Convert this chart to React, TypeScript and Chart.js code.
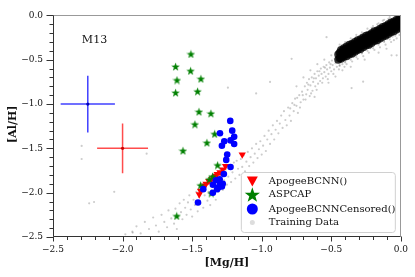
import React, { useEffect, useRef } from 'react';
import { Chart, registerables } from 'chart.js';

Chart.register(...registerables);

// ---------- text ----------
const xTitle = '[Mg/H]';
const yTitle = '[Al/H]';
const clusterName = 'M13';
const seriesNames = ['ApogeeBCNN()', 'ASPCAP', 'ApogeeBCNNCensored()', 'Training Data'];

// ---------- ticks ----------
const xMajorTicks = [-2.5, -2.0, -1.5, -1.0, -0.5, 0.0];
const yMajorTicks = [-2.5, -2.0, -1.5, -1.0, -0.5, 0.0];
const minorTicks = [-2.4, -2.3, -2.2, -2.1, -1.9, -1.8, -1.7, -1.6, -1.4, -1.3, -1.2, -1.1, -0.9, -0.8, -0.7, -0.6, -0.4, -0.3, -0.2, -0.1];

// ---------- series ----------
const apogeeBCNN: number[][] = [
  [-1.449, -2.02], [-1.44, -1.98], [-1.42, -1.94], [-1.41, -1.92], [-1.40, -1.90], [-1.38, -1.87],
  [-1.36, -1.85], [-1.34, -1.83], [-1.33, -1.81], [-1.32, -1.79], [-1.30, -1.77], [-1.28, -1.74],
  [-1.26, -1.70], [-1.14, -1.57],
];

const aspcap: number[][] = [
  [-1.509, -0.435], [-1.619, -0.577], [-1.511, -0.625], [-1.609, -0.729], [-1.437, -0.714],
  [-1.619, -0.871], [-1.461, -0.856], [-1.451, -1.086], [-1.365, -1.105], [-1.480, -1.228],
  [-1.338, -1.336], [-1.394, -1.436], [-1.566, -1.526], [-1.317, -1.689], [-1.353, -1.816],
  [-1.377, -1.849], [-1.439, -1.916], [-1.363, -2.005], [-1.611, -2.262],
];

const censored: number[][] = [
  [-1.226, -1.19], [-1.300, -1.33], [-1.212, -1.30], [-1.198, -1.37], [-1.269, -1.42],
  [-1.224, -1.41], [-1.286, -1.47], [-1.198, -1.45], [-1.248, -1.57], [-1.255, -1.63],
  [-1.224, -1.71], [-1.272, -1.79], [-1.302, -1.85], [-1.329, -1.86], [-1.351, -1.91],
  [-1.300, -1.91], [-1.286, -1.93], [-1.320, -1.96], [-1.351, -2.00], [-1.420, -1.96],
  [-1.458, -2.11], [-1.31, -1.94], [-1.28, -1.90],
];

const trainingSparse: number[][] = [
  // lower-left tail
  [-1.98, -2.47], [-1.93, -2.44], [-1.90, -2.38], [-1.87, -2.46], [-1.84, -2.33], [-1.81, -2.41],
  [-1.78, -2.28], [-1.76, -2.37], [-1.74, -2.44], [-1.72, -2.25], [-1.70, -2.33], [-1.68, -2.39],
  [-1.67, -2.20], [-1.65, -2.29], [-1.63, -2.35], [-1.62, -2.18], [-1.60, -2.26], [-1.61, -2.41],
  [-1.59, -2.12], [-1.58, -2.22], [-1.57, -2.30], [-1.56, -2.08], [-1.55, -2.17], [-1.54, -2.25],
  [-1.53, -2.11], [-1.52, -2.03], [-1.51, -2.19], [-1.50, -2.27], [-1.49, -2.08], [-1.48, -2.14],
  [-1.47, -1.99], [-1.46, -2.21], [-1.45, -2.05], [-1.44, -2.12], [-1.43, -1.96], [-1.42, -2.17],
  [-1.41, -2.03], [-1.40, -1.92], [-1.39, -2.09], [-1.38, -1.99], [-1.37, -2.14], [-1.36, -1.90],
  [-1.35, -2.02], [-1.34, -1.95], [-1.33, -2.08], [-1.32, -1.86], [-1.31, -1.99], [-1.30, -1.92],
  // middle
  [-1.29, -1.80], [-1.28, -1.97], [-1.27, -1.86], [-1.26, -1.74], [-1.25, -1.91], [-1.24, -1.82],
  [-1.23, -1.70], [-1.22, -1.88], [-1.21, -1.77], [-1.20, -1.66], [-1.19, -1.84], [-1.18, -1.64],
  [-1.17, -1.73], [-1.16, -1.80], [-1.15, -1.62], [-1.14, -1.71], [-1.13, -1.58], [-1.12, -1.76],
  [-1.11, -1.65], [-1.10, -1.54], [-1.09, -1.70], [-1.08, -1.60], [-1.07, -1.50], [-1.06, -1.66],
  [-1.05, -1.56], [-1.04, -1.45], [-1.03, -1.61], [-1.02, -1.51], [-1.01, -1.42], [-1.00, -1.57],
  [-0.99, -1.47], [-0.98, -1.36], [-0.97, -1.53], [-0.96, -1.40], [-0.95, -1.30], [-0.94, -1.45],
  [-0.93, -1.34], [-0.92, -1.24], [-0.91, -1.40], [-0.90, -1.29], [-0.89, -1.19], [-0.88, -1.33],
  [-0.87, -1.22], [-0.86, -1.13], [-0.85, -1.27], [-0.84, -1.08], [-0.83, -1.18], [-0.82, -1.24],
  [-0.81, -1.04], [-0.80, -1.13], [-0.79, -1.19], [-0.78, -0.99], [-0.77, -1.08], [-0.76, -0.94],
  [-0.75, -1.02], [-0.74, -1.10], [-0.73, -0.90], [-0.72, -0.98], [-0.71, -0.86], [-0.70, -0.95],
  // upper part
  [-0.69, -0.80], [-0.68, -0.89], [-0.675, -0.76], [-0.67, -0.84], [-0.66, -0.72], [-0.655, -0.91],
  [-0.65, -0.79], [-0.64, -0.70], [-0.635, -0.85], [-0.63, -0.75], [-0.62, -0.66], [-0.615, -0.80],
  [-0.61, -0.71], [-0.60, -0.63], [-0.595, -0.77], [-0.59, -0.68], [-0.58, -0.74], [-0.575, -0.60],
  [-0.57, -0.66], [-0.56, -0.71], [-0.555, -0.58], [-0.55, -0.64], [-0.54, -0.69], [-0.535, -0.56],
  [-0.53, -0.61], [-0.52, -0.66], [-0.515, -0.53], [-0.51, -0.59], [-0.50, -0.63], [-0.495, -0.51],
  [-0.49, -0.56], [-0.48, -0.61], [-0.475, -0.49], [-0.47, -0.54], [-0.46, -0.58], [-0.455, -0.47],
  [-0.45, -0.52], [-0.44, -0.56], [-0.435, -0.45], [-0.43, -0.50], [-0.42, -0.55], [-0.415, -0.43],
  [-0.41, -0.48],
  [-0.795, -1.05], [-0.765, -1.01], [-0.745, -0.93], [-0.725, -1.04], [-0.705, -0.90], [-0.685, -0.95],
  [-0.665, -0.78], [-0.645, -0.88], [-0.625, -0.71], [-0.605, -0.84], [-0.585, -0.63], [-0.565, -0.76],
  [-0.545, -0.59], [-0.525, -0.72], [-0.505, -0.55], [-0.485, -0.66], [-0.465, -0.51], [-0.445, -0.61],
  [-0.425, -0.47], [-0.405, -0.58], [-0.60, -0.55], [-0.55, -0.50], [-0.50, -0.45], [-0.65, -0.62],
  [-0.70, -0.70], [-0.75, -0.80], [-0.52, -0.76], [-0.47, -0.69], [-0.42, -0.62], [-0.62, -0.92],
  // halo around the dense core
  [-0.39, -0.55], [-0.37, -0.30], [-0.35, -0.52], [-0.33, -0.27], [-0.31, -0.49], [-0.29, -0.22],
  [-0.27, -0.46], [-0.25, -0.19], [-0.23, -0.42], [-0.21, -0.14], [-0.19, -0.39], [-0.17, -0.10],
  [-0.15, -0.36], [-0.13, -0.06], [-0.11, -0.33], [-0.09, -0.04], [-0.07, -0.30], [-0.05, -0.28],
  [-0.03, -0.26], [-0.01, -0.22], [-0.36, -0.58], [-0.26, -0.50], [-0.16, -0.42],
  [-0.38, -0.33], [-0.34, -0.29], [-0.30, -0.25], [-0.24, -0.20], [-0.20, -0.16], [-0.14, -0.11],
  [-0.40, -0.52], [-0.34, -0.47], [-0.28, -0.42], [-0.22, -0.37], [-0.12, -0.29], [-0.06, -0.24],
  [-0.44, -0.33], [-0.40, -0.30], [-0.36, -0.26], [-0.32, -0.22], [-0.28, -0.19], [-0.24, -0.15],
  [-0.20, -0.12], [-0.16, -0.09], [-0.12, -0.05], [-0.08, -0.02],
  [-0.44, -0.57], [-0.40, -0.53], [-0.36, -0.50], [-0.32, -0.47], [-0.28, -0.43], [-0.24, -0.40],
  [-0.20, -0.37], [-0.16, -0.33], [-0.12, -0.30], [-0.08, -0.27], [-0.04, -0.23], [0.00, -0.19],
  // outliers
  [-2.294, -1.473], [-2.294, -1.62], [-2.06, -1.99], [-2.24, -2.12], [-2.205, -2.105], [-1.927, -2.45],
  [-1.827, -1.56], [-1.243, -0.815], [-0.785, -0.49], [-0.94, -0.75], [-1.04, -0.88], [-0.03, -0.45],
  [-0.534, -0.246], [-0.271, -0.748], [-0.354, -0.82], [-0.067, -0.45], [-0.103, -0.376],
];

const trainingCore: number[][] = [
  [-0.45, -0.50], [-0.45, -0.44],
  [-0.44, -0.48], [-0.44, -0.42],
  [-0.43, -0.49], [-0.43, -0.44], [-0.43, -0.39],
  [-0.42, -0.46], [-0.42, -0.40],
  [-0.41, -0.47], [-0.41, -0.42], [-0.41, -0.37],
  [-0.40, -0.44], [-0.40, -0.38],
  [-0.39, -0.46], [-0.39, -0.40], [-0.39, -0.35],
  [-0.38, -0.43], [-0.38, -0.37],
  [-0.37, -0.44], [-0.37, -0.39], [-0.37, -0.33],
  [-0.36, -0.41], [-0.36, -0.35],
  [-0.35, -0.43], [-0.35, -0.37], [-0.35, -0.32],
  [-0.34, -0.39], [-0.34, -0.33],
  [-0.33, -0.41], [-0.33, -0.35], [-0.33, -0.30],
  [-0.32, -0.38], [-0.32, -0.32],
  [-0.31, -0.39], [-0.31, -0.34], [-0.31, -0.28],
  [-0.30, -0.36], [-0.30, -0.30],
  [-0.29, -0.38], [-0.29, -0.32], [-0.29, -0.27],
  [-0.28, -0.34], [-0.28, -0.28],
  [-0.27, -0.36], [-0.27, -0.30], [-0.27, -0.25],
  [-0.26, -0.32], [-0.26, -0.26],
  [-0.25, -0.34], [-0.25, -0.29], [-0.25, -0.23],
  [-0.24, -0.31], [-0.24, -0.25],
  [-0.23, -0.33], [-0.23, -0.27], [-0.23, -0.22],
  [-0.22, -0.29], [-0.22, -0.23],
  [-0.21, -0.31], [-0.21, -0.25], [-0.21, -0.20],
  [-0.20, -0.27], [-0.20, -0.21],
  [-0.19, -0.29], [-0.19, -0.24], [-0.19, -0.18],
  [-0.18, -0.26], [-0.18, -0.20],
  [-0.17, -0.28], [-0.17, -0.22], [-0.17, -0.17],
  [-0.16, -0.24], [-0.16, -0.18],
  [-0.15, -0.26], [-0.15, -0.20], [-0.15, -0.15],
  [-0.14, -0.22], [-0.14, -0.16],
  [-0.13, -0.24], [-0.13, -0.19], [-0.13, -0.13],
  [-0.12, -0.21], [-0.12, -0.15],
  [-0.11, -0.23], [-0.11, -0.17], [-0.11, -0.12],
  [-0.10, -0.19], [-0.10, -0.13],
  [-0.09, -0.21], [-0.09, -0.15], [-0.09, -0.10],
  [-0.08, -0.17], [-0.08, -0.11],
  [-0.07, -0.19], [-0.07, -0.14], [-0.07, -0.08],
  [-0.06, -0.15], [-0.06, -0.09],
  [-0.05, -0.18], [-0.05, -0.12], [-0.05, -0.07],
  [-0.04, -0.14], [-0.04, -0.08],
  [-0.03, -0.16], [-0.03, -0.10], [-0.03, -0.05],
  [-0.02, -0.12], [-0.02, -0.06],
  [-0.01, -0.14], [-0.01, -0.09], [-0.01, -0.03],
  [0.00, -0.10], [0.00, -0.04],
  [0.01, -0.13], [0.01, -0.07], [0.01, -0.02],
];

// error-bar crosses
const errCenterX = [-2.25, -2.0];
const errCenterY = [-1.0, -1.5];
const errHalfX = [0.195, 0.183];
const errHalfY = [0.32, 0.28];

// ---------- helpers ----------
const SERIF = "'DejaVu Serif', serif";
const fmt = (v: number) => (v < 0 ? '\u2212' : '') + Math.abs(v).toFixed(1);
const toXY = (arr: number[][]) => arr.map(([x, y]) => ({ x, y }));

function starPath(ctx: CanvasRenderingContext2D, cx: number, cy: number, R: number, r: number) {
  ctx.beginPath();
  for (let i = 0; i < 10; i++) {
    const a = -Math.PI / 2 + (i * Math.PI) / 5;
    const rad = i % 2 === 0 ? R : r;
    const px = cx + rad * Math.cos(a);
    const py = cy + rad * Math.sin(a);
    if (i === 0) ctx.moveTo(px, py); else ctx.lineTo(px, py);
  }
  ctx.closePath();
}

function makeStarImage(size: number, color: string) {
  const c = document.createElement('canvas');
  c.width = size;
  c.height = size;
  const g = c.getContext('2d')!;
  starPath(g, size / 2, size / 2 + size * 0.06, size / 2, size * 0.2);
  g.fillStyle = color;
  g.fill();
  return c;
}

const decorPlugin = {
  id: 'decor',
  afterDraw(chart: any) {
    const { ctx, chartArea: a, scales } = chart;
    const xs = scales.x;
    const ys = scales.y;
    ctx.save();

    // error bars
    const errLine = ['rgba(0,0,255,0.75)', 'rgba(255,0,0,0.7)'];
    const errDot = ['#0000bb', '#cc0000'];
    for (let i = 0; i < errCenterX.length; i++) {
      const cx = xs.getPixelForValue(errCenterX[i]);
      const cy = ys.getPixelForValue(errCenterY[i]);
      const x0 = xs.getPixelForValue(errCenterX[i] - errHalfX[i]);
      const x1 = xs.getPixelForValue(errCenterX[i] + errHalfX[i]);
      const y0 = ys.getPixelForValue(errCenterY[i] - errHalfY[i]);
      const y1 = ys.getPixelForValue(errCenterY[i] + errHalfY[i]);
      ctx.strokeStyle = errLine[i];
      ctx.lineWidth = 1.5;
      ctx.beginPath();
      ctx.moveTo(x0, cy); ctx.lineTo(x1, cy);
      ctx.moveTo(cx, y0); ctx.lineTo(cx, y1);
      ctx.stroke();
      ctx.fillStyle = errDot[i];
      ctx.beginPath();
      ctx.arc(cx, cy, 1.6, 0, Math.PI * 2);
      ctx.fill();
    }

    // frame
    const L = Math.round(a.left) + 0.5, R = Math.round(a.right) - 0.5;
    const T = Math.round(a.top) + 0.5, B = Math.round(a.bottom) - 0.5;
    ctx.lineWidth = 1;
    ctx.strokeStyle = '#999';
    ctx.beginPath();
    ctx.moveTo(L, T); ctx.lineTo(R, T); ctx.lineTo(R, B);
    ctx.stroke();
    ctx.strokeStyle = '#333';
    ctx.beginPath();
    ctx.moveTo(L, T); ctx.lineTo(L, B); ctx.lineTo(R, B);
    ctx.stroke();

    // ticks
    ctx.strokeStyle = '#333';
    ctx.beginPath();
    for (const v of yMajorTicks) {
      const y = Math.round(ys.getPixelForValue(v)) + 0.5;
      ctx.moveTo(L - 7, y); ctx.lineTo(L, y);
    }
    for (const v of minorTicks) {
      const y = Math.round(ys.getPixelForValue(v)) + 0.5;
      ctx.moveTo(L - 4, y); ctx.lineTo(L, y);
    }
    for (const v of xMajorTicks) {
      const x = Math.round(xs.getPixelForValue(v)) + 0.5;
      ctx.moveTo(x, B); ctx.lineTo(x, B + 5);
    }
    for (const v of minorTicks) {
      const x = Math.round(xs.getPixelForValue(v)) + 0.5;
      ctx.moveTo(x, B); ctx.lineTo(x, B + 3.5);
    }
    ctx.stroke();

    // axis titles
    ctx.fillStyle = '#111';
    ctx.font = `bold 11px ${SERIF}`;
    ctx.textAlign = 'center';
    ctx.textBaseline = 'middle';
    ctx.fillText(xTitle, (a.left + a.right) / 2, 263);
    ctx.save();
    ctx.translate(13, (a.top + a.bottom) / 2 - 2);
    ctx.rotate(-Math.PI / 2);
    ctx.fillText(yTitle, 0, 0);
    ctx.restore();

    // cluster label
    ctx.font = `11px ${SERIF}`;
    ctx.textAlign = 'left';
    ctx.fillText(clusterName, a.left + (a.right - a.left) * 0.083, a.top + (a.bottom - a.top) * 0.112);

    // legend
    const bx = a.left + (a.right - a.left) * 0.54;
    const by = 172;
    const bw = 154;
    const bh = 60;
    ctx.fillStyle = 'rgba(255,255,255,0.85)';
    ctx.strokeStyle = '#d0d0d0';
    ctx.lineWidth = 1;
    ctx.beginPath();
    ctx.roundRect(bx + 0.5, by + 0.5, bw, bh, 3);
    ctx.fill();
    ctx.stroke();

    const mx = bx + 11.5;
    const tx = bx + 28;
    const rows = [by + 9, by + 22.5, by + 37, by + 50.5];
    ctx.fillStyle = '#ff0000';
    ctx.beginPath();
    ctx.moveTo(mx - 5.5, rows[0] - 4.5);
    ctx.lineTo(mx + 5.5, rows[0] - 4.5);
    ctx.lineTo(mx, rows[0] + 5.5);
    ctx.closePath();
    ctx.fill();
    ctx.fillStyle = '#008000';
    starPath(ctx, mx, rows[1] + 0.8, 8, 3.2);
    ctx.fill();
    ctx.fillStyle = '#0000ff';
    ctx.beginPath();
    ctx.arc(mx, rows[2], 5.5, 0, Math.PI * 2);
    ctx.fill();
    ctx.fillStyle = '#dddddd';
    ctx.beginPath();
    ctx.arc(mx, rows[3], 2.5, 0, Math.PI * 2);
    ctx.fill();

    ctx.fillStyle = '#111';
    ctx.font = `10px ${SERIF}`;
    ctx.textAlign = 'left';
    ctx.textBaseline = 'middle';
    seriesNames.forEach((n, i) => ctx.fillText(n, tx, rows[i]));

    ctx.restore();
  },
};

export default function App() {
  const ref = useRef<HTMLCanvasElement | null>(null);

  useEffect(() => {
    if (!ref.current) return;
    const starImg = makeStarImage(9, '#008000');
    const tickFont = { family: SERIF, size: 9 };
    const chart = new Chart(ref.current, {
      type: 'scatter',
      data: {
        datasets: [
          {
            label: seriesNames[2], data: toXY(censored), order: 0,
            backgroundColor: '#0000ff', borderColor: '#0000ff',
            pointStyle: 'circle', pointRadius: 3.3, pointBackgroundColor: '#0000ff',
            pointBorderWidth: 0, pointBorderColor: 'rgba(0,0,0,0)',
          },
          {
            label: seriesNames[1], data: toXY(aspcap), order: 1,
            backgroundColor: '#008000', borderColor: '#008000',
            pointStyle: starImg as any, pointRadius: 4.5,
          },
          {
            label: seriesNames[0], data: toXY(apogeeBCNN), order: 2,
            backgroundColor: '#ff0000', borderColor: '#ff0000',
            pointStyle: 'triangle', pointRotation: 180, pointRadius: 4.2, pointBackgroundColor: '#ff0000',
            pointBorderWidth: 0, pointBorderColor: 'rgba(0,0,0,0)',
          },
          {
            label: seriesNames[3], data: toXY(trainingSparse), order: 3, clip: 0,
            backgroundColor: 'rgba(0,0,0,0.2)', borderColor: 'rgba(0,0,0,0)',
            pointStyle: 'circle', pointRadius: 1.1, pointBackgroundColor: 'rgba(0,0,0,0.2)',
            pointBorderWidth: 0, pointBorderColor: 'rgba(0,0,0,0)',
          },
          {
            label: seriesNames[3] + ' (dense core)', data: toXY(trainingCore), order: 4, clip: 0,
            backgroundColor: 'rgba(0,0,0,0.8)', borderColor: 'rgba(0,0,0,0)',
            pointStyle: 'circle', pointRadius: 4.0, pointBackgroundColor: 'rgba(0,0,0,0.8)',
            pointBorderWidth: 0, pointBorderColor: 'rgba(0,0,0,0)',
          },
        ] as any,
      },
      options: {
        animation: false,
        responsive: false,
        maintainAspectRatio: false,
        devicePixelRatio: 1,
        events: [],
        layout: { padding: { left: 0, top: 13, right: 14, bottom: 0 } },
        plugins: { legend: { display: false }, tooltip: { enabled: false }, colors: { enabled: false } },
        scales: {
          x: {
            type: 'linear', min: -2.5, max: 0,
            grid: { display: false, drawTicks: false, tickLength: 0 },
            border: { display: false },
            afterFit: (s: any) => { s.height = 40; },
            afterBuildTicks: (s: any) => { s.ticks = xMajorTicks.map((v) => ({ value: v })); },
            ticks: {
              padding: 7, color: '#111', font: tickFont, maxRotation: 0, autoSkip: false,
              callback: (v: any) => fmt(Number(v)),
            },
          },
          y: {
            type: 'linear', min: -2.5, max: 0,
            grid: { display: false, drawTicks: false, tickLength: 0 },
            border: { display: false },
            afterFit: (s: any) => { s.width = 53; },
            afterBuildTicks: (s: any) => { s.ticks = yMajorTicks.map((v) => ({ value: v })); },
            ticks: {
              padding: 10, color: '#111', font: tickFont, autoSkip: false,
              callback: (v: any) => fmt(Number(v)),
            },
          },
        },
      } as any,
      plugins: [decorPlugin],
    });
    return () => chart.destroy();
  }, []);

  return (
    <div style={{ position: 'fixed', left: 0, top: 0, width: 415, height: 277, background: '#fff' }}>
      <canvas ref={ref} width={415} height={277} style={{ display: 'block' }} />
    </div>
  );
}
